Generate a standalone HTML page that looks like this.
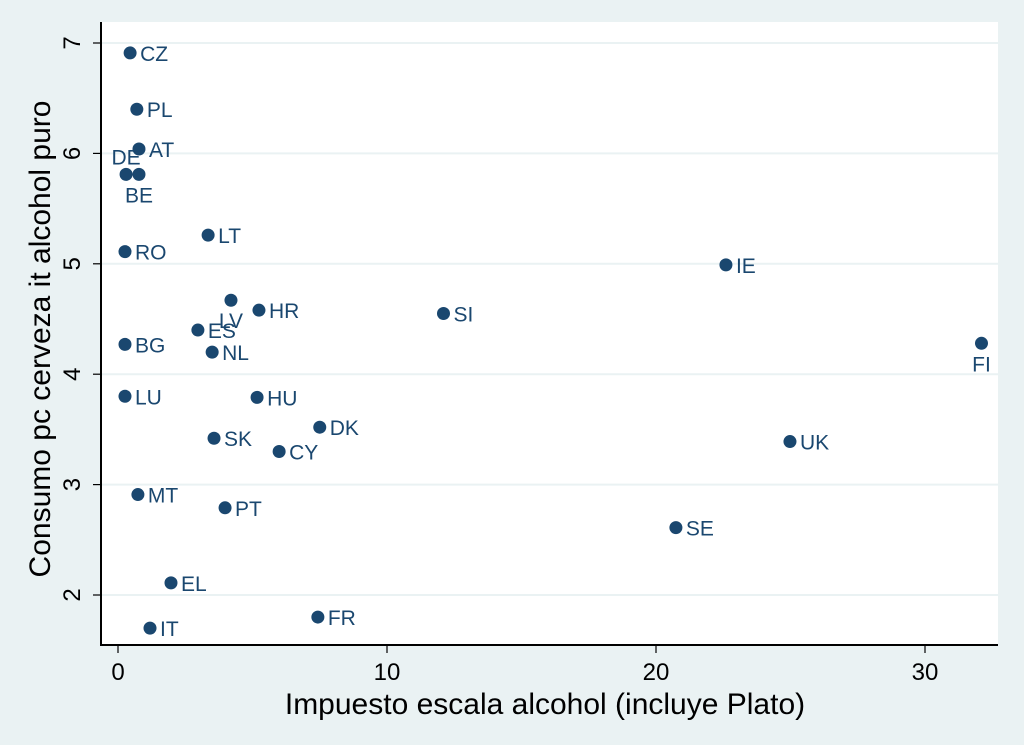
<!DOCTYPE html>
<html><head><meta charset="utf-8"><style>
html,body{margin:0;padding:0;background:#eaf2f3;}
svg{display:block;font-family:"Liberation Sans",sans-serif;}
</style></head><body>
<svg id="chart" width="1024" height="745">
<rect x="0" y="0" width="1024" height="745" fill="#eaf2f3"/>
<rect x="101" y="22" width="897" height="623" fill="#ffffff"/>
<g id="grid"></g><g id="axes"></g><g id="points"></g>
<text x="545" y="714" font-size="30" text-anchor="middle" fill="#000">Impuesto escala alcohol (incluye Plato)</text>
<text transform="translate(50,339) rotate(-90)" font-size="30" text-anchor="middle" fill="#000">Consumo pc cerveza it alcohol puro</text>
</svg>
<script>
const countries=["CZ","PL","AT","DE","BE","LT","RO","IE","LV","HR","SI","ES","BG","FI","NL","LU","HU","DK","SK","UK","CY","MT","PT","SE","EL","FR","IT"];
const taxValues=[0.45,0.7,0.78,0.3,0.78,3.35,0.26,22.6,4.2,5.24,12.1,2.97,0.26,32.1,3.5,0.26,5.17,7.5,3.57,24.98,5.99,0.74,3.98,20.74,1.97,7.43,1.19];
const consValues=[6.91,6.40,6.04,5.81,5.81,5.26,5.11,4.99,4.67,4.58,4.55,4.40,4.27,4.28,4.20,3.80,3.79,3.52,3.42,3.39,3.30,2.91,2.79,2.61,2.11,1.80,1.70];
const labelPos={"DE":"nw","BE":"s","LV":"s","FI":"s"};
const xTicks=[0,10,20,30];
const yTicks=[2,3,4,5,6,7];
const NS="http://www.w3.org/2000/svg";
function sx(v){return 118+v*26.9;}
function sy(v){return 595-(v-2)*110.4;}
function mk(tag,attrs,parent){const e=document.createElementNS(NS,tag);for(const k in attrs)e.setAttribute(k,attrs[k]);parent.appendChild(e);return e;}
const grid=document.getElementById('grid'),axes=document.getElementById('axes'),pts=document.getElementById('points');
yTicks.forEach(t=>{
 const g=mk('line',{x1:101,x2:998,y1:sy(t),y2:sy(t),stroke:'#eaf2f3','stroke-width':2},grid);
 
 
 const tk=mk('line',{x1:93,x2:101,y1:sy(t),y2:sy(t),stroke:'#000','stroke-width':1.2},axes);
 
 
 const lb=mk('text',{transform:`translate(80,${sy(t)}) rotate(-90)`,'font-size':24,'text-anchor':'middle'},axes);
 lb.textContent=t;
 
 
});
xTicks.forEach(t=>{
 const tk=mk('line',{x1:sx(t),x2:sx(t),y1:645,y2:653,stroke:'#000','stroke-width':1.2},axes);
 
 
 const lb=mk('text',{x:sx(t),y:680,'font-size':24,'text-anchor':'middle'},axes);
 lb.textContent=t;
 
 
});
const ya=mk('line',{x1:101,x2:101,y1:22,y2:646,stroke:'#000','stroke-width':2},axes);


const xa=mk('line',{x1:100,x2:998,y1:645,y2:645,stroke:'#000','stroke-width':2},axes);


countries.forEach((c,i)=>{
 const x=sx(taxValues[i]),y=sy(consValues[i]);
 const d=mk('circle',{cx:x,cy:y,r:6.5,fill:'#1a476f'},pts);
 
 
 let lx=x+10,ly=y+8,anchor='start';
 const p=labelPos[c];
 if(p==='s'){lx=x;ly=y+28;anchor='middle';}
 if(p==='nw'){lx=x;ly=y-10;anchor='middle';}
 const t=mk('text',{x:lx,y:ly,'font-size':21,'text-anchor':anchor,fill:'#1a476f'},pts);
 t.textContent=c;
 
 
});
</script>
</body></html>
